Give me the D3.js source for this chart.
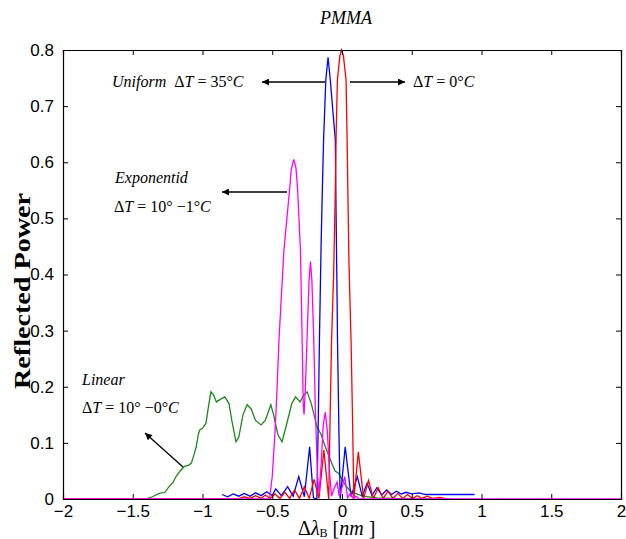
<!DOCTYPE html>
<html>
<head>
<meta charset="utf-8">
<script src="https://cdn.jsdelivr.net/npm/d3@7"></script>
<style>
  body { margin: 0; background: #fff; }
  svg { display: block; }
  .tick text { font-family: "Liberation Sans", Arial, sans-serif; font-size: 17px; fill: #000; }
  .ann { font-family: "Liberation Serif", "Times New Roman", serif; font-size: 16px; font-style: italic; }
</style>
</head>
<body>
<script>
// axes
var xTicks = [-2, -1.5, -1, -0.5, 0, 0.5, 1, 1.5, 2];
var yTicks = [0, 0.1, 0.2, 0.3, 0.4, 0.5, 0.6, 0.7, 0.8];

// Uniform dT = 0 C (red)
var red = [[-2,0],[-0.75,0],[-0.7,0.004],[-0.66,0.001],[-0.62,0.006],[-0.58,0.001],[-0.55,0.007],[-0.515,0.001],
  [-0.48,0.009],[-0.445,0.001],[-0.41,0.012],[-0.375,0.001],[-0.34,0.016],[-0.305,0.001],[-0.27,0.022],[-0.235,0.001],
  [-0.2,0.035],[-0.165,0.001],[-0.13,0.087],[-0.095,0],[-0.085,0.15],[-0.075,0.28],[-0.06,0.4],[-0.048,0.55],
  [-0.042,0.65],[-0.033,0.747],[-0.015,0.79],[-0.003,0.8],[0.01,0.79],[0.029,0.747],[0.036,0.65],[0.042,0.55],
  [0.05,0.42],[0.065,0.28],[0.075,0.15],[0.085,0],[0.117,0.084],[0.155,0.001],[0.19,0.033],[0.225,0.001],
  [0.26,0.02],[0.295,0.001],[0.33,0.014],[0.365,0.001],[0.4,0.01],[0.435,0.001],[0.47,0.008],[0.505,0.001],
  [0.54,0.006],[0.575,0.001],[0.61,0.005],[0.65,0.001],[0.7,0.003],[0.75,0]];

// Uniform dT = 35 C (blue)
var blue = [[-0.86,0.008],[-0.82,0.004],[-0.78,0.009],[-0.74,0.005],[-0.7,0.01],[-0.66,0.005],[-0.62,0.011],
  [-0.58,0.006],[-0.54,0.013],[-0.5,0.006],[-0.475,0.018],[-0.435,0.006],[-0.39,0.022],[-0.35,0.005],[-0.31,0.04],
  [-0.27,0.004],[-0.232,0.093],[-0.205,0.002],[-0.18,0],[-0.17,0.14],[-0.162,0.28],[-0.15,0.45],[-0.14,0.56],
  [-0.132,0.64],[-0.116,0.747],[-0.1,0.787],[-0.084,0.747],[-0.065,0.69],[-0.048,0.64],[-0.042,0.5],[-0.035,0.35],
  [-0.032,0.28],[-0.022,0.12],[-0.013,0],[0.023,0.093],[0.065,0.004],[0.11,0.04],[0.145,0.005],[0.18,0.028],
  [0.215,0.006],[0.25,0.02],[0.285,0.007],[0.32,0.016],[0.355,0.008],[0.39,0.014],[0.425,0.009],[0.46,0.012],
  [0.5,0.009],[0.55,0.011],[0.6,0.008],[0.95,0.008]];

// Exponential dT = 10 - 1 C (magenta)
var magenta = [[-2,0],[-0.52,0],[-0.5,0.04],[-0.48,0.12],[-0.465,0.2],[-0.452,0.283],[-0.435,0.36],[-0.416,0.444],
  [-0.395,0.5],[-0.376,0.55],[-0.364,0.586],[-0.346,0.605],[-0.33,0.59],[-0.318,0.55],[-0.298,0.444],[-0.286,0.29],
  [-0.278,0.17],[-0.272,0.15],[-0.262,0.2],[-0.25,0.29],[-0.236,0.39],[-0.226,0.423],[-0.216,0.39],[-0.203,0.29],
  [-0.19,0.15],[-0.175,0.04],[-0.165,0.01],[-0.15,0.06],[-0.135,0.13],[-0.12,0.155],[-0.105,0.12],[-0.09,0.05],
  [-0.075,0.005],[-0.055,0.02],[-0.035,0.03],[-0.02,0.005],[0,0.02],[0.02,0.04],[0.04,0.002],[0.06,0.01],
  [0.08,0.001],[0.1,0.005],[0.12,0],[2,0]];

// Linear dT = 10 - 0 C (green)
var green = [[-2,0],[-1.41,0],[-1.36,0.004],[-1.31,0.01],[-1.27,0.012],[-1.24,0.022],[-1.21,0.03],[-1.19,0.04],
  [-1.16,0.05],[-1.13,0.058],[-1.1,0.06],[-1.08,0.064],[-1.06,0.08],[-1.045,0.093],[-1.03,0.115],[-1.02,0.123],
  [-1,0.126],[-0.975,0.135],[-0.96,0.16],[-0.94,0.191],[-0.92,0.185],[-0.9,0.173],[-0.87,0.178],[-0.84,0.182],
  [-0.81,0.17],[-0.79,0.14],[-0.76,0.102],[-0.74,0.11],[-0.71,0.15],[-0.68,0.168],[-0.65,0.16],[-0.62,0.14],
  [-0.58,0.132],[-0.55,0.14],[-0.51,0.168],[-0.49,0.15],[-0.46,0.115],[-0.43,0.102],[-0.4,0.13],[-0.36,0.17],
  [-0.333,0.182],[-0.3,0.173],[-0.275,0.185],[-0.25,0.191],[-0.22,0.17],[-0.18,0.129],[-0.15,0.115],[-0.12,0.093],
  [-0.074,0.064],[-0.05,0.05],[-0.025,0.046],[0,0.035],[0.023,0.025],[0.06,0.014],[0.094,0.01],[0.15,0.005],
  [0.25,0.002],[0.5,0],[0.78,0]];

var width = 626, height = 539;
var x0 = 63, x1 = 621, y0 = 499, y1 = 50;

var svg = d3.select("body").append("svg")
  .attr("width", width)
  .attr("height", height);

var x = d3.scaleLinear().domain([-2, 2]).range([x0, x1]);
var y = d3.scaleLinear().domain([0, 0.8]).range([y0, y1]);

var defs = svg.append("defs");
defs.append("marker")
  .attr("id", "head")
  .attr("viewBox", "0 0 10 10")
  .attr("refX", 10).attr("refY", 5)
  .attr("markerWidth", 10).attr("markerHeight", 7)
  .attr("markerUnits", "userSpaceOnUse")
  .attr("orient", "auto")
  .append("path").attr("d", "M0,0L10,5L0,10Z").attr("fill", "#000");

// curves
var line = d3.line().x(function(d){ return x(d[0]); }).y(function(d){ return y(d[1]); });
var series = [
  {data: green, color: "#1a8a1a"},
  {data: blue, color: "#0000ff"},
  {data: red, color: "#ff0000"},
  {data: magenta, color: "#ff00ff"}
];
svg.selectAll("path.curve").data(series).enter()
  .append("path")
  .attr("class", "curve")
  .attr("d", function(d){ return line(d.data); })
  .attr("fill", "none")
  .attr("stroke", function(d){ return d.color; })
  .attr("stroke-width", 1.3);

// axes (ticks inward on all four sides)
var gx = svg.append("g").attr("transform", "translate(0," + y0 + ")")
  .call(d3.axisBottom(x).tickValues(xTicks).tickSize(-5).tickPadding(6)
    .tickFormat(function(d){ return d3.format("")(d); }));
svg.append("g").attr("transform", "translate(0," + y1 + ")")
  .call(d3.axisTop(x).tickValues(xTicks).tickSize(-5).tickFormat(""));
var gy = svg.append("g").attr("transform", "translate(" + x0 + ",0)")
  .call(d3.axisLeft(y).tickValues(yTicks).tickSize(-5).tickPadding(9)
    .tickFormat(function(d){ return d === 0 ? "0" : d3.format(".1f")(d); }));
svg.append("g").attr("transform", "translate(" + x1 + ",0)")
  .call(d3.axisRight(y).tickValues(yTicks).tickSize(-5).tickFormat(""));
svg.selectAll(".domain").attr("stroke", "#000").attr("stroke-width", 1.2);
svg.selectAll(".tick line").attr("stroke", "#000");
gx.selectAll("text").attr("dy", "0.71em");

// titles
svg.append("text")
  .attr("x", 346).attr("y", 24)
  .attr("text-anchor", "middle")
  .attr("class", "ann")
  .style("font-size", "18px")
  .text("PMMA");

svg.append("text")
  .attr("transform", "translate(30,291) rotate(-90)")
  .attr("text-anchor", "middle")
  .attr("textLength", 196)
  .attr("lengthAdjust", "spacingAndGlyphs")
  .style("font-family", "'Liberation Serif', 'Times New Roman', serif")
  .style("font-weight", "bold")
  .style("font-size", "24px")
  .text("Reflected Power");

var xl = svg.append("text")
  .attr("x", 298).attr("y", 535)
  .style("font-family", "'Liberation Serif', 'Times New Roman', serif")
  .style("font-size", "20px");
xl.append("tspan").text("Δ");
xl.append("tspan").style("font-style", "italic").text("λ");
xl.append("tspan").attr("dy", 2).style("font-size", "12px").text("B");
xl.append("tspan").attr("dy", -2).text(" [");
xl.append("tspan").style("font-style", "italic").text("nm");
xl.append("tspan").text(" ]");

// annotations
function dT(g, px, py, lead, val) {
  var t = g.append("text").attr("class", "ann").attr("x", px).attr("y", py).attr("xml:space", "preserve");
  if (lead) t.append("tspan").text(lead);
  t.append("tspan").style("font-style", "normal").text("Δ");
  t.append("tspan").text("T");
  t.append("tspan").style("font-style", "normal").text(val);
  t.append("tspan").text("C");
  return t;
}
dT(svg, 112, 87, "Uniform  ", " = 35°");
dT(svg, 413, 87, "", " = 0°");
svg.append("text").attr("class", "ann").attr("x", 115).attr("y", 183).text("Exponentid");
dT(svg, 114, 212, "", " = 10° −1°");
svg.append("text").attr("class", "ann").attr("x", 82).attr("y", 385).text("Linear");
dT(svg, 82, 413, "", " = 10° −0°");

var arrows = [
  [325, 82, 262, 82],
  [350, 82, 405, 82],
  [287, 192, 222, 192],
  [183, 467, 145, 433]
];
svg.selectAll("line.arrow").data(arrows).enter()
  .append("line")
  .attr("class", "arrow")
  .attr("x1", function(d){ return d[0]; }).attr("y1", function(d){ return d[1]; })
  .attr("x2", function(d){ return d[2]; }).attr("y2", function(d){ return d[3]; })
  .attr("stroke", "#000").attr("stroke-width", 1.3)
  .attr("marker-end", "url(#head)");
</script>
</body>
</html>
